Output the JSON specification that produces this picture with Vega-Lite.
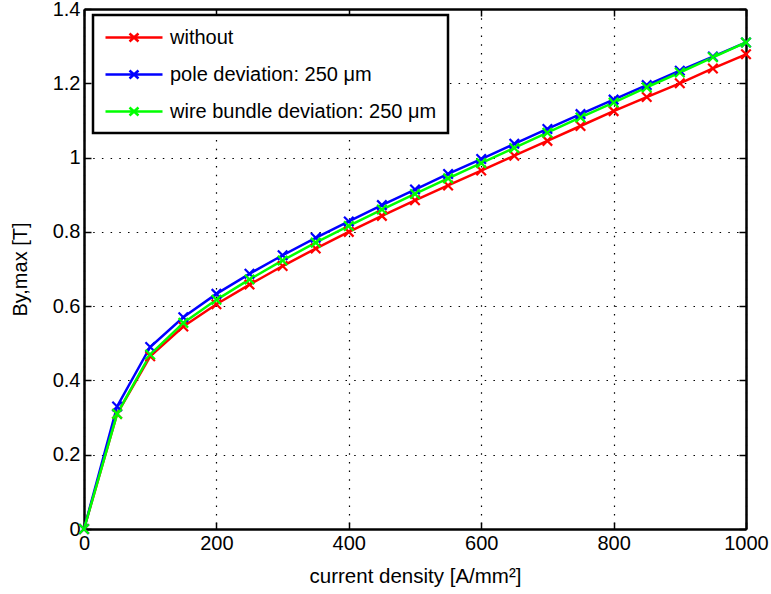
{
  "$schema": "https://vega.github.io/schema/vega-lite/v6.json",
  "width": 662,
  "height": 520,
  "autosize": "none",
  "padding": {"left": 84, "top": 9, "right": 25, "bottom": 65},
  "background": "white",
  "config": {
    "font": "Liberation Sans",
    "view": {"stroke": null}
  },
  "data": {
    "values": [
      {"j": 0, "B": 0, "s": "without"},
      {"j": 50, "B": 0.31, "s": "without"},
      {"j": 100, "B": 0.465, "s": "without"},
      {"j": 150, "B": 0.545, "s": "without"},
      {"j": 200, "B": 0.605, "s": "without"},
      {"j": 250, "B": 0.658, "s": "without"},
      {"j": 300, "B": 0.708, "s": "without"},
      {"j": 350, "B": 0.755, "s": "without"},
      {"j": 400, "B": 0.8, "s": "without"},
      {"j": 450, "B": 0.843, "s": "without"},
      {"j": 500, "B": 0.885, "s": "without"},
      {"j": 550, "B": 0.925, "s": "without"},
      {"j": 600, "B": 0.965, "s": "without"},
      {"j": 650, "B": 1.005, "s": "without"},
      {"j": 700, "B": 1.045, "s": "without"},
      {"j": 750, "B": 1.085, "s": "without"},
      {"j": 800, "B": 1.125, "s": "without"},
      {"j": 850, "B": 1.163, "s": "without"},
      {"j": 900, "B": 1.2, "s": "without"},
      {"j": 950, "B": 1.24, "s": "without"},
      {"j": 1000, "B": 1.278, "s": "without"},
      {"j": 0, "B": 0, "s": "pole deviation: 250 μm"},
      {"j": 50, "B": 0.33, "s": "pole deviation: 250 μm"},
      {"j": 100, "B": 0.49, "s": "pole deviation: 250 μm"},
      {"j": 150, "B": 0.57, "s": "pole deviation: 250 μm"},
      {"j": 200, "B": 0.633, "s": "pole deviation: 250 μm"},
      {"j": 250, "B": 0.687, "s": "pole deviation: 250 μm"},
      {"j": 300, "B": 0.737, "s": "pole deviation: 250 μm"},
      {"j": 350, "B": 0.784, "s": "pole deviation: 250 μm"},
      {"j": 400, "B": 0.828, "s": "pole deviation: 250 μm"},
      {"j": 450, "B": 0.872, "s": "pole deviation: 250 μm"},
      {"j": 500, "B": 0.914, "s": "pole deviation: 250 μm"},
      {"j": 550, "B": 0.956, "s": "pole deviation: 250 μm"},
      {"j": 600, "B": 0.996, "s": "pole deviation: 250 μm"},
      {"j": 650, "B": 1.037, "s": "pole deviation: 250 μm"},
      {"j": 700, "B": 1.077, "s": "pole deviation: 250 μm"},
      {"j": 750, "B": 1.117, "s": "pole deviation: 250 μm"},
      {"j": 800, "B": 1.156, "s": "pole deviation: 250 μm"},
      {"j": 850, "B": 1.195, "s": "pole deviation: 250 μm"},
      {"j": 900, "B": 1.234, "s": "pole deviation: 250 μm"},
      {"j": 950, "B": 1.272, "s": "pole deviation: 250 μm"},
      {"j": 1000, "B": 1.31, "s": "pole deviation: 250 μm"},
      {"j": 0, "B": 0, "s": "wire bundle deviation: 250 μm"},
      {"j": 50, "B": 0.31, "s": "wire bundle deviation: 250 μm"},
      {"j": 100, "B": 0.47, "s": "wire bundle deviation: 250 μm"},
      {"j": 150, "B": 0.555, "s": "wire bundle deviation: 250 μm"},
      {"j": 200, "B": 0.617, "s": "wire bundle deviation: 250 μm"},
      {"j": 250, "B": 0.672, "s": "wire bundle deviation: 250 μm"},
      {"j": 300, "B": 0.723, "s": "wire bundle deviation: 250 μm"},
      {"j": 350, "B": 0.771, "s": "wire bundle deviation: 250 μm"},
      {"j": 400, "B": 0.816, "s": "wire bundle deviation: 250 μm"},
      {"j": 450, "B": 0.86, "s": "wire bundle deviation: 250 μm"},
      {"j": 500, "B": 0.902, "s": "wire bundle deviation: 250 μm"},
      {"j": 550, "B": 0.944, "s": "wire bundle deviation: 250 μm"},
      {"j": 600, "B": 0.985, "s": "wire bundle deviation: 250 μm"},
      {"j": 650, "B": 1.026, "s": "wire bundle deviation: 250 μm"},
      {"j": 700, "B": 1.067, "s": "wire bundle deviation: 250 μm"},
      {"j": 750, "B": 1.108, "s": "wire bundle deviation: 250 μm"},
      {"j": 800, "B": 1.148, "s": "wire bundle deviation: 250 μm"},
      {"j": 850, "B": 1.189, "s": "wire bundle deviation: 250 μm"},
      {"j": 900, "B": 1.229, "s": "wire bundle deviation: 250 μm"},
      {"j": 950, "B": 1.27, "s": "wire bundle deviation: 250 μm"},
      {"j": 1000, "B": 1.31, "s": "wire bundle deviation: 250 μm"}
    ]
  },
  "resolve": {"axis": {"x": "independent", "y": "independent"}},
  "layer": [
    {
      "mark": {"type": "line", "opacity": 0},
      "encoding": {
        "x": {"field": "j", "type": "quantitative", "scale": {"domain": [0, 1000], "nice": false},
              "axis": {"orient": "top", "values": [0, 200, 400, 600, 800, 1000], "labels": false, "title": null,
                       "grid": false, "domain": true, "domainColor": "black", "domainWidth": 2.5,
                       "ticks": true, "tickColor": "black", "tickWidth": 1.5, "tickSize": -7}},
        "y": {"field": "B", "type": "quantitative", "scale": {"domain": [0, 1.4], "nice": false},
              "axis": {"orient": "right", "values": [0, 0.2, 0.4, 0.6, 0.8, 1, 1.2, 1.4], "labels": false, "title": null,
                       "grid": false, "domain": true, "domainColor": "black", "domainWidth": 2.5,
                       "ticks": true, "tickColor": "black", "tickWidth": 1.5, "tickSize": -7}},
        "detail": {"field": "s"}
      }
    },
    {
      "mark": {"type": "line", "strokeWidth": 2.5,
               "point": {"shape": "M-1,-1L1,1M-1,1L1,-1", "filled": false, "size": 90, "strokeWidth": 2.2}},
      "encoding": {
        "x": {"field": "j", "type": "quantitative", "scale": {"domain": [0, 1000], "nice": false},
              "axis": {"values": [0, 200, 400, 600, 800, 1000], "format": "d", "title": "current density [A/mm²]",
                       "grid": true, "gridColor": "black", "gridDash": [1.5, 7.2], "gridWidth": 1.2, "gridOpacity": 1,
                       "domain": true, "domainColor": "black", "domainWidth": 2.5,
                       "ticks": true, "tickColor": "black", "tickWidth": 1.5, "tickSize": -7,
                       "labelFontSize": 20, "labelColor": "black", "labelPadding": 11, "labelFlush": false,
                       "titleFontSize": 20.5, "titleColor": "black", "titleFontWeight": "normal", "titlePadding": 13}},
        "y": {"field": "B", "type": "quantitative", "scale": {"domain": [0, 1.4], "nice": false},
              "axis": {"values": [0, 0.2, 0.4, 0.6, 0.8, 1, 1.2, 1.4], "format": ".1~f", "title": "By,max [T]",
                       "grid": true, "gridColor": "black", "gridDash": [1.5, 7.2], "gridWidth": 1.2, "gridOpacity": 1,
                       "domain": true, "domainColor": "black", "domainWidth": 2.5,
                       "ticks": true, "tickColor": "black", "tickWidth": 1.5, "tickSize": -7,
                       "labelFontSize": 20, "labelColor": "black", "labelPadding": 11, "labelFlush": false,
                       "titleFontSize": 20, "titleColor": "black", "titleFontWeight": "normal", "titlePadding": 22}},
        "color": {"field": "s", "type": "nominal",
                  "scale": {"domain": ["without", "pole deviation: 250 μm", "wire bundle deviation: 250 μm"],
                            "range": ["#FF0000", "#0000FF", "#00FF00"]},
                  "legend": {"orient": "none", "legendX": 9, "legendY": 6, "title": null,
                             "fillColor": "white", "strokeColor": "black",
                             "padding": 11, "rowPadding": 15, "labelFontSize": 20, "labelColor": "black", "labelLimit": 0,
                             "symbolType": "M-1,0H4.7M1.4,-0.4L2.3,0.4M1.4,0.4L2.3,-0.4",
                             "symbolSize": 400, "symbolStrokeWidth": 2.5, "labelOffset": 43,
                             "encode": {"legend": {"update": {"strokeWidth": {"value": 2.5}}}}}},
        "order": {"field": "j"}
      }
    }
  ]
}
